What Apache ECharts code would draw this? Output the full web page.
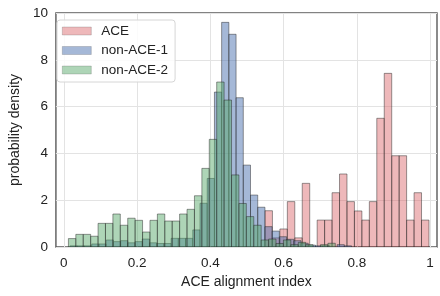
<!DOCTYPE html>
<html>
<head>
<meta charset="utf-8">
<script src="https://cdn.jsdelivr.net/npm/echarts@6/dist/echarts.min.js"></script>
<style>
html,body{margin:0;padding:0;background:#fff;}
#chart{width:440px;height:296px;}
</style>
</head>
<body>
<div id="chart"></div>
<script>
// ---- data (histogram bins: first bin edge, bin width, densities) ----
const seriesNames = ['ACE', 'non-ACE-1', 'non-ACE-2'];
const xTicks = [0, 0.2, 0.4, 0.6, 0.8, 1];
const xTickLabels = ['0', '0.2', '0.4', '0.6', '0.8', '1'];
const yTicks = [0, 2, 4, 6, 8, 10];

const aceStart = 0.5492;
const aceWidth = 0.02035;
const aceValues = [1.55, 0.39, 0.77, 1.94, 0.39, 2.72, 0, 1.15, 1.15, 2.32, 3.12,
                   1.94, 1.54, 1.15, 1.94, 5.50, 7.42, 3.90, 3.90, 1.15, 2.32, 1.15];

const non1Start = 0.0172;
const non1Width = 0.0197;
const non1Values = [0.05, 0.05, 0.05, 0.13, 0.13, 0.30, 0.23, 0.27, 0.18, 0.23,
                    0.34, 0.18, 0.15, 0.15, 0.37, 0.37, 0.37, 0.73, 1.87, 2.93,
                    6.62, 9.60, 9.09, 6.38, 3.50, 2.22, 1.70, 0.87, 0.68, 0.44,
                    0.33, 0.27, 0.16, 0.08, 0.05, 0.05, 0, 0.10, 0.05];

const non2Start = 0.0126;
const non2Width = 0.02024;
const non2Values = [0.36, 0.54, 0.54, 0.46, 1.01, 1.01, 1.41, 0.93, 1.23, 1.14,
                    0.64, 1.14, 1.41, 1.11, 1.11, 1.41, 1.61, 2.19, 3.36, 4.60,
                    7.05, 6.28, 3.08, 1.86, 1.30, 0.93, 0.30, 0.34, 0.15, 0.30,
                    0.10, 0.20, 0.10, 0, 0.10, 0.16];

function bins(start, width, values) {
  return values.map((v, i) => [start + i * width, start + (i + 1) * width, v]);
}

function renderItem(params, api) {
  const v = api.value(2);
  if (!v) return null;
  const p0 = api.coord([api.value(0), 0]);
  const p1 = api.coord([api.value(1), v]);
  return {
    type: 'rect',
    shape: { x: p0[0], y: p1[1], width: p1[0] - p0[0], height: p0[1] - p1[1] },
    style: api.style()
  };
}

const fonts = '"Liberation Sans", Arial, sans-serif';
const edge = 'rgba(40,40,40,0.6)';
const styles = [
  { color: 'rgba(214,86,90,0.42)', borderColor: edge, borderWidth: 0.8 },
  { color: 'rgba(76,114,176,0.5)', borderColor: edge, borderWidth: 0.8 },
  { color: 'rgba(85,168,104,0.48)', borderColor: edge, borderWidth: 0.8 }
];
const dataSets = [
  bins(aceStart, aceWidth, aceValues),
  bins(non1Start, non1Width, non1Values),
  bins(non2Start, non2Width, non2Values)
];

const chart = echarts.init(document.getElementById('chart'), null, { renderer: 'canvas' });
chart.setOption({
  animation: false,
  backgroundColor: '#fff',
  textStyle: { fontFamily: fonts },
  grid: {
    left: 50, top: 13, width: 387, height: 234,
    show: true, borderColor: '#5a5a5a', borderWidth: 1.4, backgroundColor: 'transparent'
  },
  legend: {
    orient: 'vertical',
    left: 57, top: 20,
    padding: [3, 7, 4, 5],
    itemWidth: 29, itemHeight: 8, itemGap: 3.5,
    backgroundColor: 'rgba(255,255,255,0.85)',
    borderColor: '#d6d6d6', borderWidth: 1, borderRadius: 3,
    itemStyle: { borderWidth: 0.6, borderColor: 'rgba(60,60,60,0.35)' },
    textStyle: { fontSize: 13.5, color: '#222', fontFamily: fonts, lineHeight: 16, padding: [0, 0, 0, 5] },
    data: seriesNames.map(n => ({ name: n, icon: 'rect' }))
  },
  xAxis: {
    type: 'value',
    min: -0.0215, max: 1.0188,
    name: 'ACE alignment index',
    nameLocation: 'middle', nameGap: 26,
    nameTextStyle: { fontSize: 14, color: '#222', fontFamily: fonts },
    axisLine: { show: false },
    axisTick: { show: false, customValues: xTicks },
    axisLabel: {
      customValues: xTicks,
      formatter: v => xTickLabels[xTicks.findIndex(t => Math.abs(t - v) < 1e-9)] ?? '',
      fontSize: 13.5, color: '#222', margin: 9, fontFamily: fonts
    },
    splitLine: { show: true, lineStyle: { color: '#e3e3e3', width: 1 } }
  },
  yAxis: {
    type: 'value',
    min: 0, max: 10, interval: 2,
    name: 'probability density',
    nameLocation: 'middle', nameGap: 27, nameRotate: 90,
    nameTextStyle: { fontSize: 14, color: '#222', fontFamily: fonts },
    axisLine: { show: false },
    axisTick: { show: false },
    axisLabel: { fontSize: 13.5, color: '#222', margin: 8, fontFamily: fonts,
                 formatter: v => yTicks.includes(v) ? String(v) : '' },
    splitLine: { show: true, lineStyle: { color: '#e3e3e3', width: 1 } }
  },
  series: seriesNames.map((name, i) => ({
    name: name,
    type: 'custom',
    renderItem: renderItem,
    clip: true,
    encode: { x: [0, 1], y: 2 },
    itemStyle: styles[i],
    data: dataSets[i],
    z: 2 + i
  }))
});
</script>
</body>
</html>
